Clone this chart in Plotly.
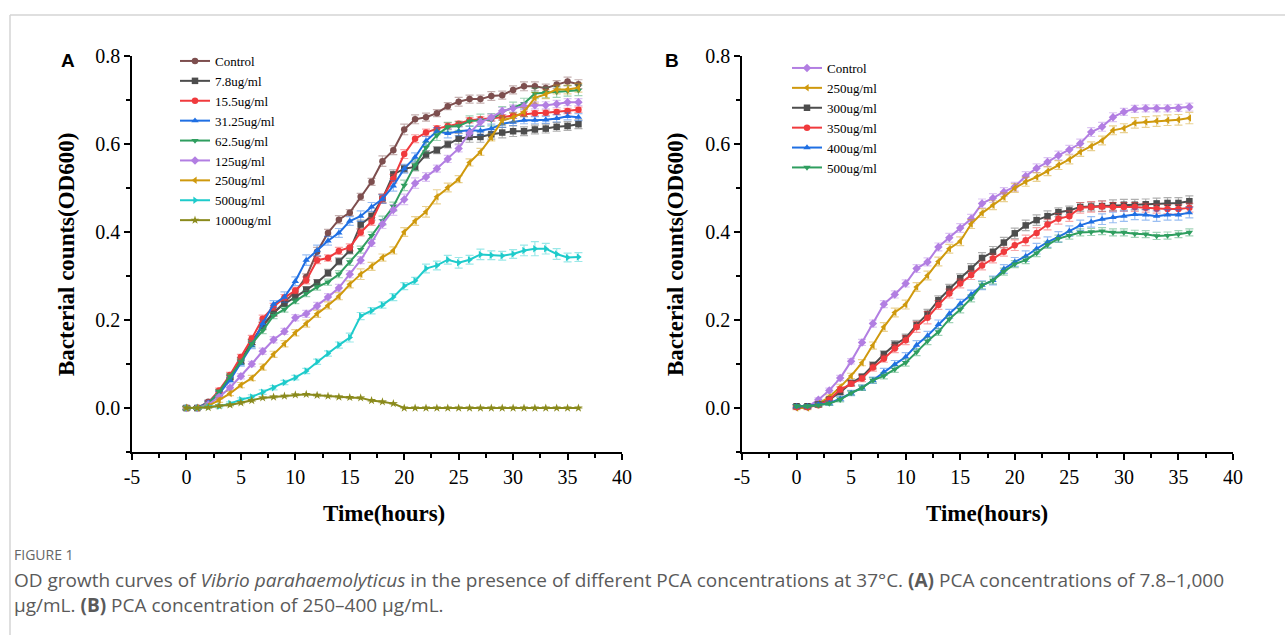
import plotly.graph_objects as go

# ————————————————
# data (OD600 per hour, 0..36 h)
HOURS = list(range(37))

A_NAMES = ["Control", "7.8ug/ml", "15.5ug/ml", "31.25ug/ml", "62.5ug/ml",
           "125ug/ml", "250ug/ml", "500ug/ml", "1000ug/ml"]
A_CONTROL = [0.000, 0.000, 0.014, 0.033, 0.067, 0.108, 0.150, 0.186, 0.215, 0.241, 0.264, 0.298, 0.355,
             0.398, 0.428, 0.444, 0.480, 0.514, 0.561, 0.586, 0.633, 0.656, 0.661, 0.670, 0.686, 0.696,
             0.702, 0.702, 0.709, 0.711, 0.723, 0.731, 0.731, 0.727, 0.735, 0.742, 0.736]
A_7_8 = [0.000, 0.000, 0.010, 0.036, 0.070, 0.108, 0.150, 0.188, 0.217, 0.237, 0.252, 0.269, 0.285,
         0.307, 0.333, 0.358, 0.417, 0.436, 0.476, 0.531, 0.544, 0.548, 0.576, 0.586, 0.599, 0.612,
         0.616, 0.616, 0.622, 0.626, 0.629, 0.629, 0.633, 0.635, 0.639, 0.641, 0.645]
A_15_5 = [0.000, 0.000, 0.012, 0.040, 0.075, 0.116, 0.158, 0.203, 0.230, 0.251, 0.267, 0.290, 0.336,
          0.341, 0.357, 0.365, 0.399, 0.424, 0.476, 0.521, 0.577, 0.612, 0.626, 0.635, 0.641, 0.646,
          0.654, 0.656, 0.658, 0.661, 0.665, 0.668, 0.670, 0.671, 0.673, 0.675, 0.678]
A_31_25 = [0.000, 0.000, 0.012, 0.033, 0.063, 0.101, 0.142, 0.192, 0.236, 0.252, 0.288, 0.336, 0.358,
           0.380, 0.398, 0.425, 0.436, 0.457, 0.475, 0.505, 0.544, 0.570, 0.607, 0.629, 0.624, 0.629,
           0.631, 0.630, 0.635, 0.646, 0.650, 0.654, 0.654, 0.655, 0.658, 0.663, 0.661]
A_62_5 = [0.000, 0.000, 0.010, 0.037, 0.072, 0.105, 0.146, 0.176, 0.210, 0.224, 0.243, 0.260, 0.275,
          0.286, 0.304, 0.332, 0.360, 0.392, 0.426, 0.458, 0.506, 0.552, 0.592, 0.620, 0.639, 0.641,
          0.652, 0.654, 0.655, 0.673, 0.683, 0.692, 0.715, 0.717, 0.718, 0.721, 0.722]
A_125 = [0.000, 0.000, 0.008, 0.025, 0.046, 0.072, 0.100, 0.129, 0.155, 0.174, 0.205, 0.214, 0.232,
         0.252, 0.273, 0.304, 0.336, 0.375, 0.418, 0.450, 0.474, 0.511, 0.525, 0.544, 0.566, 0.590,
         0.625, 0.650, 0.660, 0.675, 0.681, 0.686, 0.688, 0.688, 0.691, 0.695, 0.695]
A_250 = [0.000, 0.000, 0.005, 0.018, 0.033, 0.052, 0.068, 0.093, 0.122, 0.146, 0.171, 0.192, 0.214,
         0.233, 0.254, 0.281, 0.304, 0.322, 0.342, 0.358, 0.400, 0.425, 0.446, 0.480, 0.501, 0.520,
         0.558, 0.582, 0.615, 0.654, 0.660, 0.673, 0.705, 0.713, 0.724, 0.724, 0.728]
A_500 = [0.000, 0.000, 0.003, 0.004, 0.010, 0.019, 0.025, 0.036, 0.046, 0.058, 0.069, 0.084, 0.105,
         0.124, 0.143, 0.160, 0.209, 0.221, 0.234, 0.252, 0.277, 0.289, 0.317, 0.324, 0.337, 0.330,
         0.337, 0.349, 0.347, 0.346, 0.350, 0.358, 0.362, 0.362, 0.350, 0.342, 0.343]
A_1000 = [0.000, 0.000, 0.001, 0.005, 0.007, 0.012, 0.017, 0.023, 0.025, 0.027, 0.030, 0.031, 0.029,
          0.027, 0.025, 0.024, 0.023, 0.017, 0.014, 0.010, 0.000, 0.000, 0.000, 0.000, 0.000, 0.000,
          0.000, 0.000, 0.000, 0.000, 0.000, 0.000, 0.000, 0.000, 0.000, 0.000, 0.000]

# standard deviations (error bar half heights)
A_CONTROL_ERR = [0.004, 0.003, 0.004, 0.005, 0.006, 0.007, 0.006, 0.008, 0.007, 0.008, 0.006, 0.007, 0.010,
                 0.008, 0.009, 0.007, 0.008, 0.008, 0.012, 0.010, 0.012, 0.010, 0.009, 0.008, 0.008, 0.010,
                 0.009, 0.009, 0.010, 0.009, 0.009, 0.010, 0.010, 0.009, 0.009, 0.010, 0.010]
A_7_8_ERR = [0.004, 0.003, 0.004, 0.005, 0.005, 0.006, 0.006, 0.007, 0.007, 0.006, 0.006, 0.007, 0.007,
             0.008, 0.008, 0.008, 0.010, 0.009, 0.010, 0.010, 0.008, 0.009, 0.009, 0.008, 0.008, 0.012,
             0.012, 0.012, 0.011, 0.012, 0.012, 0.010, 0.010, 0.010, 0.010, 0.010, 0.010]
A_15_5_ERR = [0.004, 0.003, 0.004, 0.005, 0.006, 0.006, 0.007, 0.008, 0.008, 0.007, 0.007, 0.008, 0.008,
              0.007, 0.008, 0.008, 0.008, 0.009, 0.010, 0.010, 0.010, 0.009, 0.008, 0.007, 0.007, 0.006,
              0.006, 0.006, 0.006, 0.006, 0.006, 0.006, 0.006, 0.006, 0.006, 0.006, 0.006]
A_31_25_ERR = [0.004, 0.003, 0.004, 0.005, 0.006, 0.006, 0.007, 0.008, 0.008, 0.012, 0.010, 0.012, 0.012,
               0.010, 0.010, 0.010, 0.012, 0.010, 0.010, 0.012, 0.010, 0.010, 0.010, 0.008, 0.010, 0.010,
               0.010, 0.010, 0.010, 0.008, 0.008, 0.008, 0.008, 0.008, 0.008, 0.008, 0.008]
A_62_5_ERR = [0.004, 0.003, 0.004, 0.005, 0.006, 0.006, 0.007, 0.007, 0.007, 0.006, 0.006, 0.007, 0.007,
              0.007, 0.008, 0.008, 0.008, 0.008, 0.010, 0.010, 0.012, 0.012, 0.012, 0.012, 0.010, 0.010,
              0.012, 0.014, 0.014, 0.012, 0.012, 0.012, 0.012, 0.012, 0.012, 0.012, 0.012]
A_125_ERR = [0.004, 0.003, 0.004, 0.005, 0.005, 0.006, 0.006, 0.007, 0.007, 0.007, 0.007, 0.008, 0.008,
             0.008, 0.008, 0.008, 0.008, 0.008, 0.010, 0.012, 0.012, 0.012, 0.010, 0.008, 0.008, 0.008,
             0.008, 0.008, 0.008, 0.008, 0.008, 0.008, 0.008, 0.008, 0.008, 0.008, 0.008]
A_250_ERR = [0.004, 0.003, 0.004, 0.005, 0.005, 0.006, 0.006, 0.007, 0.007, 0.007, 0.007, 0.008, 0.008,
             0.008, 0.008, 0.008, 0.012, 0.009, 0.008, 0.008, 0.010, 0.010, 0.012, 0.016, 0.010, 0.008,
             0.008, 0.008, 0.008, 0.010, 0.010, 0.010, 0.012, 0.010, 0.010, 0.010, 0.010]
A_500_ERR = [0.004, 0.003, 0.003, 0.004, 0.004, 0.004, 0.005, 0.005, 0.005, 0.005, 0.005, 0.006, 0.006,
             0.006, 0.007, 0.010, 0.008, 0.007, 0.007, 0.008, 0.008, 0.008, 0.010, 0.010, 0.010, 0.012,
             0.010, 0.012, 0.010, 0.010, 0.010, 0.012, 0.016, 0.012, 0.012, 0.010, 0.010]
A_1000_ERR = [0.002, 0.002, 0.002, 0.002, 0.002, 0.002, 0.002, 0.002, 0.002, 0.002, 0.002, 0.002, 0.002,
              0.002, 0.002, 0.002, 0.002, 0.002, 0.002, 0.002, 0.001, 0.001, 0.001, 0.001, 0.001, 0.001,
              0.001, 0.001, 0.001, 0.001, 0.001, 0.001, 0.001, 0.001, 0.001, 0.001, 0.001]

B_NAMES = ["Control", "250ug/ml", "300ug/ml", "350ug/ml", "400ug/ml", "500ug/ml"]
B_CONTROL = [0.002, 0.002, 0.019, 0.040, 0.068, 0.106, 0.149, 0.192, 0.236, 0.258, 0.283, 0.317, 0.332,
             0.366, 0.387, 0.409, 0.430, 0.465, 0.477, 0.491, 0.503, 0.527, 0.545, 0.559, 0.574, 0.587,
             0.601, 0.627, 0.639, 0.661, 0.673, 0.680, 0.681, 0.681, 0.681, 0.682, 0.684]
B_250 = [0.000, 0.000, 0.010, 0.025, 0.048, 0.073, 0.103, 0.142, 0.184, 0.217, 0.235, 0.275, 0.301,
         0.333, 0.362, 0.379, 0.418, 0.443, 0.461, 0.479, 0.500, 0.514, 0.525, 0.538, 0.552, 0.565,
         0.582, 0.595, 0.608, 0.631, 0.636, 0.648, 0.650, 0.652, 0.654, 0.655, 0.659]
B_300 = [0.004, 0.004, 0.008, 0.019, 0.036, 0.057, 0.071, 0.097, 0.122, 0.144, 0.159, 0.189, 0.214,
         0.245, 0.271, 0.295, 0.317, 0.341, 0.355, 0.376, 0.397, 0.415, 0.427, 0.436, 0.445, 0.449,
         0.457, 0.458, 0.459, 0.461, 0.462, 0.462, 0.463, 0.465, 0.466, 0.466, 0.470]
B_350 = [0.002, 0.002, 0.006, 0.019, 0.042, 0.055, 0.067, 0.092, 0.112, 0.135, 0.154, 0.184, 0.205,
         0.234, 0.260, 0.283, 0.302, 0.324, 0.340, 0.355, 0.370, 0.381, 0.398, 0.417, 0.430, 0.436,
         0.455, 0.457, 0.458, 0.457, 0.457, 0.457, 0.455, 0.453, 0.452, 0.452, 0.455]
B_400 = [0.004, 0.004, 0.008, 0.011, 0.021, 0.034, 0.046, 0.063, 0.082, 0.099, 0.116, 0.143, 0.164,
         0.190, 0.214, 0.237, 0.258, 0.279, 0.290, 0.316, 0.332, 0.345, 0.362, 0.377, 0.389, 0.402,
         0.415, 0.423, 0.429, 0.433, 0.436, 0.440, 0.439, 0.436, 0.439, 0.439, 0.444]
B_500 = [0.004, 0.004, 0.006, 0.010, 0.019, 0.034, 0.046, 0.063, 0.073, 0.088, 0.103, 0.127, 0.152,
         0.173, 0.202, 0.224, 0.249, 0.279, 0.290, 0.310, 0.327, 0.336, 0.352, 0.371, 0.385, 0.392,
         0.399, 0.400, 0.402, 0.399, 0.399, 0.396, 0.395, 0.391, 0.392, 0.395, 0.399]

B_CONTROL_ERR = [0.004, 0.004, 0.004, 0.005, 0.006, 0.006, 0.007, 0.008, 0.008, 0.008, 0.008, 0.009, 0.009,
                 0.009, 0.010, 0.010, 0.010, 0.010, 0.010, 0.010, 0.010, 0.010, 0.010, 0.010, 0.010, 0.010,
                 0.010, 0.010, 0.010, 0.010, 0.008, 0.008, 0.008, 0.008, 0.008, 0.008, 0.009]
B_250_ERR = [0.004, 0.004, 0.004, 0.005, 0.006, 0.006, 0.007, 0.008, 0.010, 0.010, 0.010, 0.010, 0.010,
             0.010, 0.010, 0.010, 0.010, 0.010, 0.010, 0.010, 0.010, 0.010, 0.010, 0.010, 0.010, 0.010,
             0.010, 0.010, 0.010, 0.010, 0.010, 0.012, 0.012, 0.012, 0.012, 0.012, 0.013]
B_300_ERR = [0.004, 0.004, 0.004, 0.005, 0.005, 0.006, 0.006, 0.008, 0.008, 0.009, 0.009, 0.010, 0.010,
             0.010, 0.010, 0.010, 0.011, 0.012, 0.012, 0.012, 0.012, 0.012, 0.012, 0.012, 0.010, 0.010,
             0.010, 0.010, 0.012, 0.012, 0.012, 0.012, 0.012, 0.012, 0.012, 0.012, 0.012]
B_350_ERR = [0.004, 0.004, 0.004, 0.005, 0.006, 0.006, 0.007, 0.008, 0.008, 0.009, 0.010, 0.012, 0.014,
             0.010, 0.010, 0.010, 0.010, 0.010, 0.010, 0.010, 0.012, 0.012, 0.012, 0.012, 0.012, 0.012,
             0.012, 0.012, 0.012, 0.010, 0.010, 0.010, 0.010, 0.010, 0.010, 0.010, 0.010]
B_400_ERR = [0.004, 0.004, 0.004, 0.005, 0.005, 0.006, 0.006, 0.007, 0.008, 0.009, 0.010, 0.010, 0.010,
             0.010, 0.010, 0.010, 0.010, 0.010, 0.010, 0.010, 0.010, 0.012, 0.012, 0.012, 0.012, 0.012,
             0.012, 0.012, 0.012, 0.012, 0.012, 0.012, 0.012, 0.012, 0.012, 0.012, 0.012]
B_500_ERR = [0.004, 0.004, 0.004, 0.004, 0.005, 0.005, 0.006, 0.006, 0.007, 0.007, 0.008, 0.008, 0.008,
             0.008, 0.008, 0.008, 0.008, 0.008, 0.008, 0.008, 0.008, 0.008, 0.008, 0.008, 0.008, 0.008,
             0.008, 0.008, 0.008, 0.008, 0.008, 0.008, 0.008, 0.008, 0.008, 0.008, 0.008]

X_TICKS = [-5, 0, 5, 10, 15, 20, 25, 30, 35, 40]
X_TICK_TEXT = ["-5", "0", "5", "10", "15", "20", "25", "30", "35", "40"]
Y_TICKS = [0.0, 0.2, 0.4, 0.6, 0.8]
Y_TICK_TEXT = ["0.0", "0.2", "0.4", "0.6", "0.8"]

# ————————————————
# styles
SERIF = "Times New Roman, Liberation Serif, serif"
SANS = "Open Sans, Noto Sans, sans-serif"

COLORS = {
    "brown": "#7d4e4e", "gray": "#4d4d4d", "red": "#f03a3d", "blue": "#1f6fe3",
    "green": "#2f9e5f", "purple": "#b27ee2", "gold": "#cf990d", "cyan": "#1ecbcb",
    "olive": "#8a8a1c",
}

A_STYLE = [("brown", "circle"), ("gray", "square"), ("red", "circle"), ("blue", "triangle-up"),
           ("green", "triangle-down"), ("purple", "diamond"), ("gold", "triangle-left"),
           ("cyan", "triangle-right"), ("olive", "star")]
B_STYLE = [("purple", "diamond"), ("gold", "triangle-left"), ("gray", "square"), ("red", "circle"),
           ("blue", "triangle-up"), ("green", "triangle-down")]

W, H = 1285, 635


def px_x(p):
    return p / W


def px_y(p):
    return 1 - p / H


def rgba(hex_color, a):
    h = hex_color.lstrip("#")
    r, g, b = int(h[0:2], 16), int(h[2:4], 16), int(h[4:6], 16)
    return f"rgba({r},{g},{b},{a})"


def add_series(fig, name, y, err, style, xaxis, yaxis, legend):
    color = COLORS[style[0]]
    fig.add_trace(go.Scatter(
        x=HOURS, y=y, name=name, mode="lines+markers",
        xaxis=xaxis, yaxis=yaxis, legend=legend,
        line=dict(color=color, width=2),
        marker=dict(symbol=style[1], size=6.5, color=color),
        error_y=dict(type="data", array=err, visible=True,
                     color=rgba(color, 0.45), thickness=1.2, width=4),
    ))


def axis_style(domain, rng, ticks, text, minor_dtick, anchor):
    return dict(
        domain=domain, range=rng, anchor=anchor, automargin=False,
        tickmode="array", tickvals=ticks, ticktext=text,
        showline=True, linecolor="black", linewidth=1.5,
        ticks="outside", ticklen=6, tickwidth=1.5, tickcolor="black",
        minor=dict(dtick=minor_dtick, ticks="outside", ticklen=4, tickwidth=1.5, tickcolor="black"),
        showgrid=False, zeroline=False,
        tickfont=dict(family=SERIF, size=20, color="black"),
    )


def main():
    fig = go.Figure()

    a_data = [A_CONTROL, A_7_8, A_15_5, A_31_25, A_62_5, A_125, A_250, A_500, A_1000]
    a_err = [A_CONTROL_ERR, A_7_8_ERR, A_15_5_ERR, A_31_25_ERR, A_62_5_ERR, A_125_ERR,
             A_250_ERR, A_500_ERR, A_1000_ERR]
    for name, y, e, st in zip(A_NAMES, a_data, a_err, A_STYLE):
        add_series(fig, name, y, e, st, "x", "y", "legend")

    b_data = [B_CONTROL, B_250, B_300, B_350, B_400, B_500]
    b_err = [B_CONTROL_ERR, B_250_ERR, B_300_ERR, B_350_ERR, B_400_ERR, B_500_ERR]
    for name, y, e, st in zip(B_NAMES, b_data, b_err, B_STYLE):
        add_series(fig, name, y, e, st, "x2", "y2", "legend2")

    ydom = [px_y(452), px_y(56)]
    legend_common = dict(
        font=dict(family=SERIF, size=13, color="black"),
        bgcolor="rgba(0,0,0,0)", itemwidth=30, tracegroupgap=0,
        xanchor="left", yanchor="top", itemclick=False,
    )

    fig.update_layout(
        width=W, height=H,
        margin=dict(l=0, r=0, t=0, b=0, pad=0, autoexpand=False),
        paper_bgcolor="white", plot_bgcolor="white",
        xaxis=axis_style([px_x(132), px_x(622)], [-5, 40], X_TICKS, X_TICK_TEXT, 2.5, "y"),
        yaxis=axis_style(ydom, [-0.1, 0.8], Y_TICKS, Y_TICK_TEXT, 0.1, "x"),
        xaxis2=axis_style([px_x(742), px_x(1233)], [-5, 40], X_TICKS, X_TICK_TEXT, 2.5, "y2"),
        yaxis2=axis_style(ydom, [-0.1, 0.8], Y_TICKS, Y_TICK_TEXT, 0.1, "x2"),
        legend=dict(x=px_x(175), y=px_y(46), **legend_common),
        legend2=dict(x=px_x(787), y=px_y(53), **legend_common),
        showlegend=True,
    )

    # axis titles, panel letters and caption as text
    notes = [
        dict(text="<b>Time(hours)</b>", x=px_x(384), y=px_y(513), size=23, family=SERIF, angle=0),
        dict(text="<b>Time(hours)</b>", x=px_x(987), y=px_y(513), size=23, family=SERIF, angle=0),
        dict(text="<b>Bacterial counts(OD600)</b>", x=px_x(67), y=px_y(255), size=23, family=SERIF, angle=-90),
        dict(text="<b>Bacterial counts(OD600)</b>", x=px_x(676), y=px_y(255), size=23, family=SERIF, angle=-90),
        dict(text="<b>A</b>", x=px_x(68), y=px_y(60), size=19, family="Liberation Sans, Arial, sans-serif", angle=0),
        dict(text="<b>B</b>", x=px_x(672), y=px_y(60), size=19, family="Liberation Sans, Arial, sans-serif", angle=0),
    ]
    for n in notes:
        fig.add_annotation(text=n["text"], x=n["x"], y=n["y"], xref="paper", yref="paper",
                           xanchor="center", yanchor="middle", showarrow=False, textangle=n["angle"],
                           font=dict(family=n["family"], size=n["size"], color="black"))

    caption = [
        ("FIGURE 1", 554, 14, "#666666"),
        ("OD growth curves of <i>Vibrio parahaemolyticus</i> in the presence of different PCA "
         "concentrations at 37°C. <b>(A)</b> PCA concentrations of 7.8–1,000<br>"
         "μg/mL. <b>(B)</b> PCA concentration of 250–400 μg/mL.", 592.5, 19, "#5a5a5a"),
    ]
    for text, ypx, size, color in caption:
        fig.add_annotation(text=text, x=px_x(12), y=px_y(ypx), xref="paper", yref="paper",
                           xanchor="left", yanchor="middle", align="left", showarrow=False,
                           font=dict(family=SANS, size=size, color=color))

    # page frame
    fig.add_shape(type="line", xref="paper", yref="paper", x0=px_x(10), x1=1, y0=px_y(15), y1=px_y(15),
                  line=dict(color="#d4d4d4", width=1.5))
    fig.add_shape(type="line", xref="paper", yref="paper", x0=px_x(10), x1=px_x(10), y0=px_y(15), y1=0,
                  line=dict(color="#d4d4d4", width=1.5))

    # drop the default page margin so the figure sits at the window origin
    fig.write_html("out.html", config={"displayModeBar": False},
                   post_script="document.body.style.margin='0';")


if __name__ == "__main__":
    main()
